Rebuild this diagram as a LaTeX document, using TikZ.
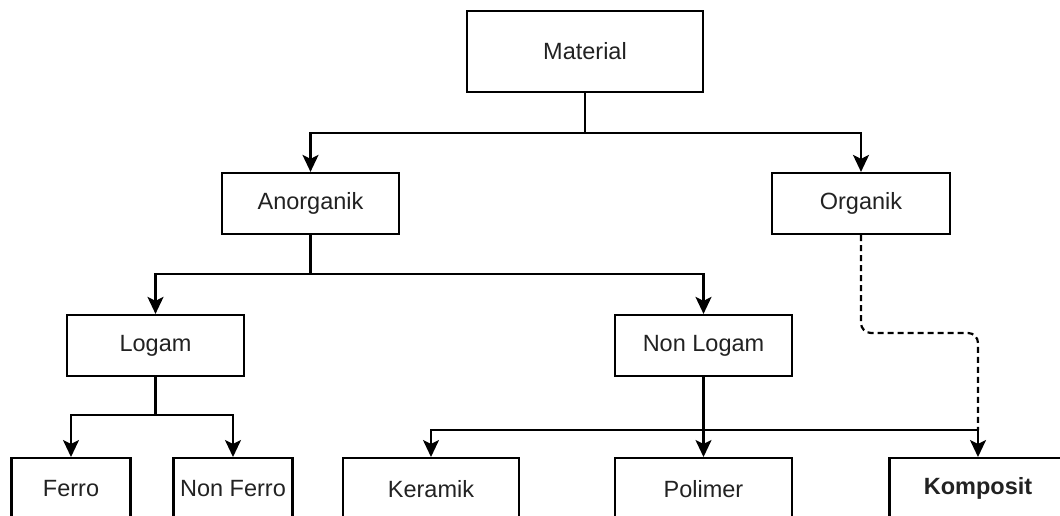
\documentclass[tikz,border=0pt]{standalone}
\usepackage{fontspec}
\setmainfont{Liberation Sans}
\usetikzlibrary{arrows.meta}
\definecolor{txt}{HTML}{222222}
\tikzset{
  box/.style={draw=black, line width=2.2pt, fill=white, inner sep=0pt, text=txt,
    font=\fontsize{23.5}{28}\selectfont},
  arr/.style={line width=2.2pt, -{Stealth[length=17pt, width=16pt, inset=4pt]}},
  ln/.style={line width=2.2pt},
  dsh/.style={line width=2.2pt, dash pattern=on 6pt off 4pt, rounded corners=10pt}
}
\begin{document}
\begin{tikzpicture}[x=1pt,y=-1pt]
\useasboundingbox (0,0) rectangle (1060,515);
\clip (0,0) rectangle (1060,515);
\fill[white] (0,0) rectangle (1060,515);
% nodes
\node[box, minimum width=236pt, minimum height=81pt] (mat) at (585,51.5) {Material};
\node[box, minimum width=177pt, minimum height=61pt] (ano) at (310.5,203.5) {Anorganik};
\node[box, minimum width=178pt, minimum height=61pt] (org) at (861,203.5) {Organik};
\node[box, minimum width=177pt, minimum height=61pt] (log) at (155.5,345.5) {Logam};
\node[box, minimum width=177pt, minimum height=61pt] (nlog) at (703.5,345.5) {Non Logam};
\node[box, minimum width=119pt, minimum height=61pt, anchor=north] (fer) at (71,457) {Ferro};
\node[box, minimum width=119pt, minimum height=61pt, anchor=north] (nfer) at (233,457) {Non Ferro};
\node[box, minimum width=176pt, minimum height=61pt, anchor=north] (ker) at (431,457) {Keramik};
\node[box, minimum width=177pt, minimum height=61pt, anchor=north] (pol) at (703.5,457) {Polimer};
\node[box, minimum width=177pt, minimum height=61pt, anchor=north, font=\fontsize{23.5}{28}\selectfont\bfseries] (kom) at (978,457) {Komposit};
% junctions
\coordinate (j1) at (585,133);
\coordinate (j2) at (310.5,274);
\coordinate (j3) at (155.5,415);
\coordinate (j4) at (703.5,430);
\coordinate (d1) at (861,333);
\coordinate (d2) at (978,333);
\coordinate (d3) at (978,430);
% connectors
\draw[ln] (mat.south) -- (j1);
\draw[arr] (j1) -| (ano.north);
\draw[arr] (j1) -| (org.north);
\draw[ln] (ano.south) -- (j2);
\draw[arr] (j2) -| (log.north);
\draw[arr] (j2) -| (nlog.north);
\draw[ln] (log.south) -- (j3);
\draw[arr] (j3) -| (fer.north);
\draw[arr] (j3) -| (nfer.north);
\draw[arr] (nlog.south) -- (pol.north);
\draw[arr] (j4) -| (ker.north);
\draw[arr] (j4) -| (kom.north);
\draw[dsh] (org.south) -- (d1) -- (d2) -- (d3);
\end{tikzpicture}
\end{document}
